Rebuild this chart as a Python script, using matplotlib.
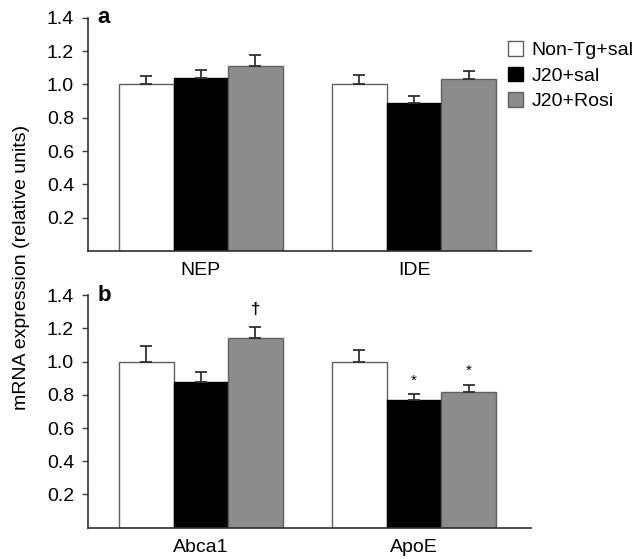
import numpy as np
import matplotlib
matplotlib.use("Agg")
import matplotlib.pyplot as plt
from matplotlib.patches import Patch

plt.rcParams['font.family'] = ['Liberation Sans', 'DejaVu Sans']

# Data
groups = ['Non-Tg+sal', 'J20+sal', 'J20+Rosi']
genes_a = ['NEP', 'IDE']
genes_b = ['Abca1', 'ApoE']

# panel a: rows = gene, cols = group
means_a = [[1.00, 1.04, 1.11],
           [1.00, 0.89, 1.03]]
errs_a = [[0.05, 0.045, 0.07],
          [0.055, 0.04, 0.05]]

# panel b
means_b = [[1.00, 0.88, 1.14],
           [1.00, 0.77, 0.815]]
errs_b = [[0.095, 0.055, 0.07],
          [0.07, 0.035, 0.045]]
marks_b = [['', '', '\u2020'],
           ['', '*', '*']]

face = ['white', 'black', '#8c8c8c']
edge = ['#606060', 'black', '#606060']

fig = plt.figure(figsize=(6.44, 5.59), dpi=100)
ax_a = fig.add_axes([0.1366, 0.551, 0.688, 0.417])
ax_b = fig.add_axes([0.1366, 0.056, 0.688, 0.416])

w = 0.256


def draw_panel(ax, genes, means, errs, letter, marks=None):
    means = np.array(means)
    errs = np.array(errs)
    x = np.arange(len(genes))
    for j in range(len(groups)):
        xpos = x + (j - 1) * w
        ax.bar(xpos, means[:, j], width=w, color=face[j], edgecolor=edge[j],
               linewidth=1.0, label=groups[j], zorder=2)
        ax.errorbar(xpos, means[:, j],
                    yerr=[np.zeros(len(genes)), errs[:, j]],
                    fmt='none', ecolor='#303030', elinewidth=1.3,
                    capsize=4, capthick=1.3, zorder=3)
        if marks is not None:
            for i in range(len(genes)):
                m = marks[i][j]
                if m:
                    top = means[i, j] + errs[i, j]
                    if m == '*':
                        ax.text(xpos[i], top + 0.04, m, ha='center',
                                va='bottom', fontsize=11)
                    else:
                        ax.text(xpos[i], top + 0.06, m, ha='center',
                                va='bottom', fontsize=12, fontweight='bold')
    ax.set_xlim(-0.53, 1.549)
    ax.set_ylim(0, 1.4)
    ax.set_yticks([0.2, 0.4, 0.6, 0.8, 1.0, 1.2, 1.4])
    ax.set_yticklabels(['0.2', '0.4', '0.6', '0.8', '1.0', '1.2', '1.4'])
    ax.set_xticks(x)
    ax.set_xticklabels(genes)
    ax.tick_params(axis='x', length=0, pad=8, labelsize=14)
    ax.tick_params(axis='y', length=4, width=1, pad=6, labelsize=14,
                   color='#404040')
    for s in ['top', 'right']:
        ax.spines[s].set_visible(False)
    for s in ['left', 'bottom']:
        ax.spines[s].set_linewidth(1.2)
        ax.spines[s].set_color('#303030')
    ax.text(0.022, 1.0, letter, transform=ax.transAxes, fontsize=16,
            fontweight='bold', va='center', ha='left')


draw_panel(ax_a, genes_a, means_a, errs_a, 'a')
draw_panel(ax_b, genes_b, means_b, errs_b, 'b', marks_b)

handles = [Patch(facecolor=face[j], edgecolor=edge[j], linewidth=1.0)
           for j in range(len(groups))]
ax_a.legend(handles, groups, loc='upper left', bbox_to_anchor=(0.948, 0.9),
            frameon=False, fontsize=14, handlelength=0.77, handleheight=0.77,
            handletextpad=0.45, labelspacing=0.38, borderpad=0,
            borderaxespad=0)

fig.text(0.034, 0.521, 'mRNA expression (relative units)', rotation=90,
         ha='center', va='center', fontsize=14)

fig.savefig('out.png', dpi=100)
